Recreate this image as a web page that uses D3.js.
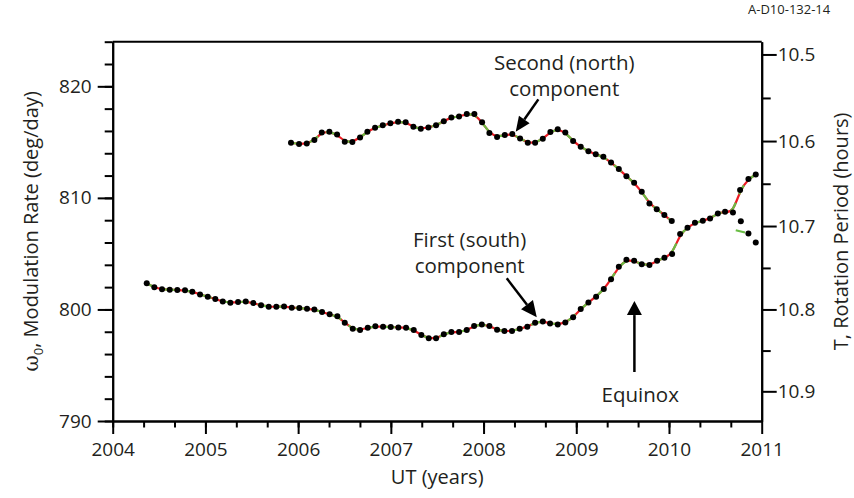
<!DOCTYPE html>
<meta charset="utf-8">
<style>
body { margin: 0; background: #fff; }
svg text { font-family: "Open Sans", sans-serif; fill: #231f20; }
.axis path, .axis line { fill: none; stroke: #000; stroke-width: 2px; }
.axis text { font-size: 19px; }
.frame { stroke: #000; stroke-width: 2px; }
.dot { fill: #000; }
.fit-red { fill: none; stroke: #ed1c24; stroke-width: 2.2px; }
.fit-green { fill: none; stroke: #6abd45; stroke-width: 2.2px; stroke-dasharray: 10,9; }
.label { font-size: 20.5px; }
.title { font-size: 20px; }
.arrow { stroke: #000; stroke-width: 2.5px; }
</style>
<body>
<div id="chart"></div>
<script src="https://d3js.org/d3.v7.min.js"></script>
<script>

// first (south) component: [UT year, modulation rate deg/day]
var southDots = [
  [2004.367, 802.34], [2004.449, 801.98], [2004.532, 801.80], [2004.615, 801.77],
  [2004.697, 801.74], [2004.780, 801.71], [2004.859, 801.59], [2004.942, 801.35],
  [2005.025, 801.14], [2005.107, 800.93], [2005.187, 800.72], [2005.269, 800.60],
  [2005.352, 800.66], [2005.435, 800.72], [2005.517, 800.57], [2005.600, 800.37],
  [2005.683, 800.24], [2005.765, 800.24], [2005.848, 800.27], [2005.931, 800.15],
  [2006.013, 800.13], [2006.096, 800.06], [2006.175, 800.00], [2006.258, 799.77],
  [2006.340, 799.56], [2006.423, 799.38], [2006.503, 798.81], [2006.589, 798.27],
  [2006.668, 798.15], [2006.751, 798.36], [2006.833, 798.49], [2006.916, 798.45],
  [2006.999, 798.42], [2007.081, 798.39], [2007.164, 798.36], [2007.247, 798.15],
  [2007.329, 797.71], [2007.409, 797.41], [2007.488, 797.41], [2007.571, 797.77],
  [2007.653, 797.97], [2007.736, 797.97], [2007.819, 798.15], [2007.898, 798.51],
  [2007.981, 798.66], [2008.063, 798.51], [2008.146, 798.18], [2008.225, 798.06],
  [2008.307, 798.06], [2008.390, 798.27], [2008.472, 798.45], [2008.556, 798.81],
  [2008.639, 798.93], [2008.717, 798.75], [2008.800, 798.66], [2008.882, 798.84],
  [2008.966, 799.29], [2009.048, 800.04], [2009.131, 800.63], [2009.214, 801.14],
  [2009.297, 801.83], [2009.375, 802.70], [2009.459, 803.83], [2009.541, 804.45],
  [2009.624, 804.36], [2009.706, 804.04], [2009.789, 803.98], [2009.872, 804.36],
  [2009.951, 804.63], [2010.034, 804.96], [2010.120, 806.76], [2010.200, 807.32],
  [2010.280, 807.77], [2010.365, 807.95], [2010.443, 808.16], [2010.527, 808.61],
  [2010.605, 808.75], [2010.690, 808.70], [2010.767, 810.70], [2010.857, 811.70],
  [2010.936, 812.10]
];

// second (north) component
var northDots = [
  [2005.923, 814.94], [2006.010, 814.82], [2006.093, 814.88], [2006.175, 815.18],
  [2006.255, 815.87], [2006.337, 815.92], [2006.420, 815.69], [2006.503, 815.03],
  [2006.585, 815.00], [2006.668, 815.42], [2006.747, 815.92], [2006.830, 816.28],
  [2006.913, 816.50], [2006.995, 816.68], [2007.078, 816.82], [2007.160, 816.77],
  [2007.243, 816.37], [2007.323, 816.19], [2007.405, 816.32], [2007.488, 816.50],
  [2007.571, 816.88], [2007.653, 817.21], [2007.736, 817.30], [2007.819, 817.51],
  [2007.901, 817.51], [2007.984, 816.79], [2008.063, 815.82], [2008.146, 815.46],
  [2008.229, 815.63], [2008.310, 815.72], [2008.394, 815.33], [2008.477, 814.94],
  [2008.556, 814.94], [2008.639, 815.30], [2008.721, 815.90], [2008.800, 816.16],
  [2008.882, 815.87], [2008.966, 815.09], [2009.048, 814.58], [2009.131, 814.19],
  [2009.210, 813.90], [2009.292, 813.68], [2009.375, 813.18], [2009.459, 812.58],
  [2009.541, 811.95], [2009.624, 811.35], [2009.706, 810.55], [2009.789, 809.50],
  [2009.868, 808.99], [2009.950, 808.46], [2010.030, 807.92]
];

// lower branch at the end of 2010
var branchDots = [[2010.775, 807.90], [2010.857, 806.80], [2010.936, 806.00]];
var branchFit  = [[2010.72, 807.10], [2010.82, 806.90]];

var yearTicks   = [2004, 2005, 2006, 2007, 2008, 2009, 2010, 2011];
var rateTicks   = [790, 800, 810, 820];
var periodTicks = [10.5, 10.6, 10.7, 10.8, 10.9];
var periodMinor = [10.55, 10.65, 10.75, 10.85];

var margin = {top: 41.7, right: 92.3, bottom: 77, left: 112.7},
    width  = 854 - margin.left - margin.right,
    height = 498 - margin.top - margin.bottom;

var svg = d3.select("#chart").append("svg")
    .attr("width", 854)
    .attr("height", 498)
  .append("g")
    .attr("transform", "translate(" + margin.left + "," + margin.top + ")");

var x = d3.scaleLinear().domain([2004, 2011]).range([0, width]);
var y = d3.scaleLinear().domain([790, 824]).range([height, 0]);

// minor ticks first, majors on top
svg.append("g")
    .attr("class", "axis")
    .attr("transform", "translate(0," + height + ")")
    .call(d3.axisBottom(x).tickValues(d3.range(2004, 2011, 1/3)).tickSize(6.5).tickSizeOuter(0).tickFormat(""));

svg.append("g")
    .attr("class", "axis")
    .attr("transform", "translate(0," + height + ")")
    .call(d3.axisBottom(x).tickValues(yearTicks).tickSize(13).tickSizeOuter(0)
        .tickPadding(9).tickFormat(d3.format("d")));

svg.append("g")
    .attr("class", "axis")
    .call(d3.axisLeft(y).tickValues(d3.range(790, 825, 2)).tickSize(8).tickSizeOuter(0).tickFormat(""));

svg.append("g")
    .attr("class", "axis")
    .call(d3.axisLeft(y).tickValues(rateTicks).tickSize(15).tickSizeOuter(0).tickPadding(6));

// right axis: rotation period T = 8640 / omega
svg.append("g")
    .attr("class", "axis")
    .attr("transform", "translate(" + width + ",0)")
    .call(d3.axisRight(y).tickValues(periodMinor.map(t => 8640 / t)).tickSize(9).tickSizeOuter(0).tickFormat(""));

svg.append("g")
    .attr("class", "axis")
    .attr("transform", "translate(" + width + ",0)")
    .call(d3.axisRight(y).tickValues(periodTicks.map(t => 8640 / t)).tickSize(15).tickSizeOuter(0)
        .tickPadding(1).tickFormat(w => d3.format(".1f")(8640 / w)));

svg.append("line")
    .attr("class", "frame")
    .attr("x1", 0).attr("x2", width)
    .attr("y1", y(824)).attr("y2", y(824));

// fitted curves under the dots
var line = d3.line()
    .curve(d3.curveBasis)
    .x(d => x(d[0]))
    .y(d => y(d[1]));

[southDots, northDots].forEach(function(series){
    svg.append("path").datum(series).attr("class", "fit-red").attr("d", line);
    svg.append("path").datum(series).attr("class", "fit-green").attr("d", line);
});

svg.append("path").datum(branchFit).attr("class", "fit-green")
    .style("stroke-dasharray", "none").attr("d", line);

// dots
svg.selectAll(".dot")
    .data(southDots.concat(northDots, branchDots))
    .enter().append("circle")
    .attr("class", "dot")
    .attr("cx", d => x(d[0]))
    .attr("cy", d => y(d[1]))
    .attr("r", 3);

// annotations
function arrow(from, to, headLen, headHalf){
    var x0 = x(from[0]), y0 = y(from[1]), x1 = x(to[0]), y1 = y(to[1]);
    var a = Math.atan2(y1 - y0, x1 - x0);
    var bx = x1 - headLen * Math.cos(a), by = y1 - headLen * Math.sin(a);
    svg.append("line").attr("class", "arrow")
        .attr("x1", x0).attr("y1", y0).attr("x2", bx).attr("y2", by);
    svg.append("path")
        .attr("d", "M" + x1 + "," + y1 +
            "L" + (bx + headHalf * Math.sin(a)) + "," + (by - headHalf * Math.cos(a)) +
            "L" + (bx - headHalf * Math.sin(a)) + "," + (by + headHalf * Math.cos(a)) + "Z")
        .attr("fill", "#000");
}

arrow([2008.591, 818.83], [2008.347, 815.92], 15, 6.5);
arrow([2008.250, 802.79], [2008.574, 799.29], 16, 7.5);
arrow([2009.627, 794.39], [2009.627, 800.75], 14, 7.5);

function label(lines, xv, yv){
    lines.forEach(function(s, i){
        svg.append("text").attr("class", "label")
            .attr("text-anchor", "middle")
            .attr("x", x(xv))
            .attr("y", y(yv) + i * 26)
            .text(s);
    });
}

label(["Second (north)", "component"], 2008.87, 821.5);
label(["First (south)", "component"], 2007.85, 805.6);
label(["Equinox"], 2009.69, 791.7);

// axis titles
svg.append("text")
    .attr("class", "title")
    .attr("text-anchor", "middle")
    .attr("x", width / 2)
    .attr("y", height + 63)
    .text("UT (years)");

var yl = svg.append("text")
    .attr("class", "title")
    .attr("text-anchor", "middle")
    .attr("transform", "translate(" + (38 - margin.left) + "," + (height / 2) + ") rotate(-90)");
yl.append("tspan").style("font-family", "'DejaVu Serif', serif").text("\u03c9");
yl.append("tspan").attr("font-size", 13).attr("dy", 5).text("0");
yl.append("tspan").attr("dy", -5).text(", Modulation Rate (deg/day)");

svg.append("text")
    .attr("class", "title")
    .attr("text-anchor", "middle")
    .attr("transform", "translate(" + (width + 86) + "," + (height / 2) + ") rotate(-90)")
    .text("T, Rotation Period (hours)");

svg.append("text")
    .attr("x", 748 - margin.left)
    .attr("y", 14 - margin.top)
    .style("font-size", "13px")
    .text("A-D10-132-14");

</script>
